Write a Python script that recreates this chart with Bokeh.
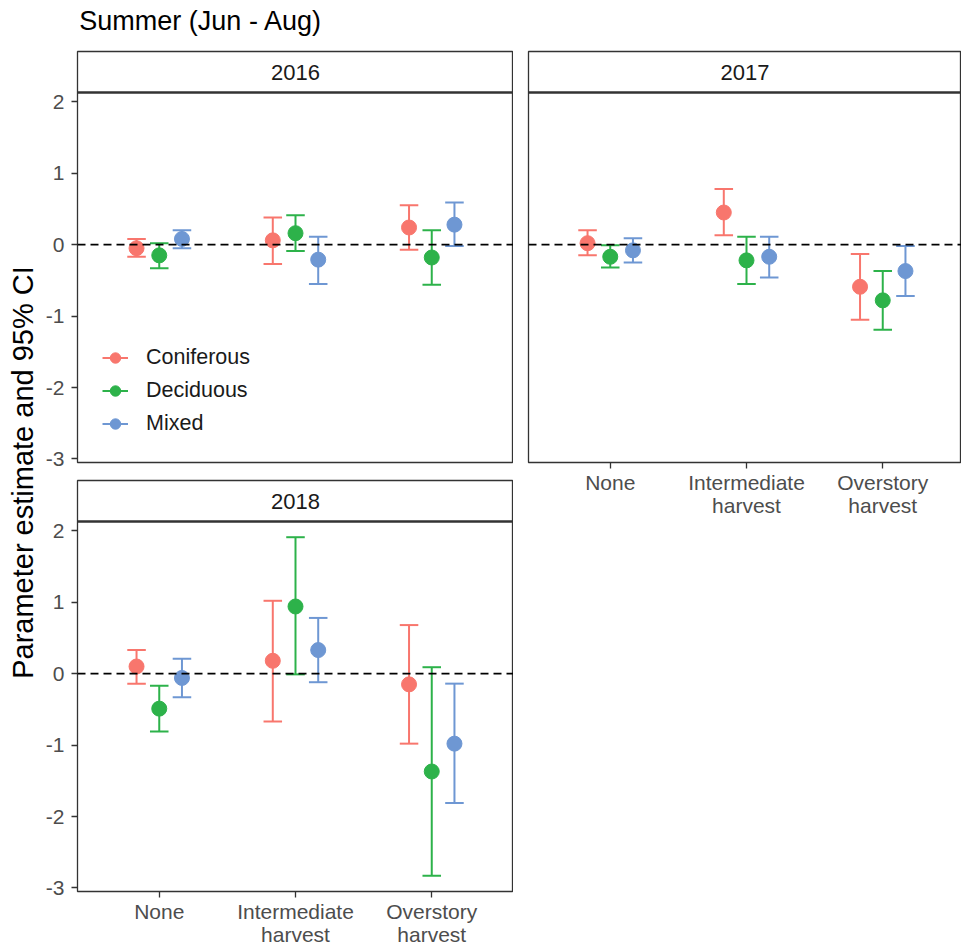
import math
from bokeh.plotting import figure
from bokeh.models import (Range1d, Label, Span, Legend, LegendItem,
                          ColumnDataSource, FixedTicker, Spacer)
from bokeh.layouts import row, column
from bokeh.transform import dodge
from bokeh.embed import file_html
from bokeh.resources import INLINE

FONT = "Liberation Sans"

# ---------------- data ----------------
treatments = ["None", "Intermediate\nharvest", "Overstory\nharvest"]
treat_pos = [1, 2, 3]
forest_types = ["Coniferous", "Deciduous", "Mixed"]
colors = ["#F8766D", "#2DB24A", "#6E97D3"]
years = ["2016", "2017", "2018"]

# 2016
est_2016_con = [-0.05, 0.06, 0.24]
lo_2016_con = [-0.17, -0.27, -0.07]
hi_2016_con = [0.08, 0.38, 0.55]
est_2016_dec = [-0.15, 0.16, -0.18]
lo_2016_dec = [-0.33, -0.09, -0.56]
hi_2016_dec = [0.02, 0.41, 0.20]
est_2016_mix = [0.08, -0.21, 0.28]
lo_2016_mix = [-0.05, -0.55, -0.02]
hi_2016_mix = [0.20, 0.11, 0.59]

# 2017
est_2017_con = [0.02, 0.45, -0.59]
lo_2017_con = [-0.15, 0.13, -1.05]
hi_2017_con = [0.20, 0.78, -0.13]
est_2017_dec = [-0.17, -0.22, -0.78]
lo_2017_dec = [-0.32, -0.55, -1.19]
hi_2017_dec = [-0.01, 0.11, -0.37]
est_2017_mix = [-0.08, -0.17, -0.37]
lo_2017_mix = [-0.25, -0.46, -0.72]
hi_2017_mix = [0.09, 0.11, -0.02]

# 2018
est_2018_con = [0.10, 0.18, -0.15]
lo_2018_con = [-0.14, -0.67, -0.98]
hi_2018_con = [0.33, 1.02, 0.68]
est_2018_dec = [-0.49, 0.94, -1.37]
lo_2018_dec = [-0.81, -0.01, -2.83]
hi_2018_dec = [-0.17, 1.91, 0.09]
est_2018_mix = [-0.06, 0.33, -0.98]
lo_2018_mix = [-0.33, -0.12, -1.81]
hi_2018_mix = [0.21, 0.78, -0.14]

panel_data = {
    "2016": [(est_2016_con, lo_2016_con, hi_2016_con),
             (est_2016_dec, lo_2016_dec, hi_2016_dec),
             (est_2016_mix, lo_2016_mix, hi_2016_mix)],
    "2017": [(est_2017_con, lo_2017_con, hi_2017_con),
             (est_2017_dec, lo_2017_dec, hi_2017_dec),
             (est_2017_mix, lo_2017_mix, hi_2017_mix)],
    "2018": [(est_2018_con, lo_2018_con, hi_2018_con),
             (est_2018_dec, lo_2018_dec, hi_2018_dec),
             (est_2018_mix, lo_2018_mix, hi_2018_mix)],
}

dodge_offsets = [-1 / 6, 0.0, 1 / 6]
cap_half = 0.068
y_ticks = [-3, -2, -1, 0, 1, 2]
y_tick_labels = ["-3", "-2", "-1", "0", "1", "2"]
Y_MIN, Y_MAX = -3.05, 2.13

# ---------------- layout constants ----------------
DATA_H = 370          # px of the data region
STRIP_H = 41          # px of the facet strip (inside the same frame)
FRAME_W = 436
PX_PER_UNIT = DATA_H / (Y_MAX - Y_MIN)
STRIP_UNITS = STRIP_H / PX_PER_UNIT
BORDER = "#333333"
TICK_COLOR = "#333333"
LABEL_COLOR = "#4D4D4D"
TICK_FS = "21px"


def style_axes(p, show_x, show_y):
    for ax in p.axis:
        ax.axis_line_color = None
        ax.major_tick_out = 6
        ax.major_tick_in = 0
        ax.minor_tick_out = 0
        ax.minor_tick_in = 0
        ax.major_tick_line_color = TICK_COLOR
        ax.major_tick_line_width = 1.3
        ax.major_label_text_font = FONT
        ax.major_label_text_font_size = TICK_FS
        ax.major_label_text_color = LABEL_COLOR
        ax.major_label_text_line_height = 1.0
    p.xaxis.major_label_standoff = 2
    p.yaxis.major_label_standoff = 7
    p.xaxis.ticker = FixedTicker(ticks=treat_pos)
    p.xaxis.major_label_overrides = {k: v for k, v in zip(treat_pos, treatments)}
    p.yaxis.ticker = FixedTicker(ticks=y_ticks)
    p.yaxis.major_label_overrides = {k: v for k, v in zip(y_ticks, y_tick_labels)}
    p.xaxis.visible = show_x
    p.yaxis.visible = show_y


def make_panel(year, frame_w, min_left, min_bottom, show_x, show_y, legend=False):
    x_end = 0.4 + 3.2 * frame_w / FRAME_W
    p = figure(frame_width=frame_w, frame_height=DATA_H + STRIP_H,
               x_range=Range1d(0.4, x_end),
               y_range=Range1d(Y_MIN, Y_MAX + STRIP_UNITS),
               output_backend="svg", toolbar_location=None,
               min_border_left=min_left, min_border_right=0,
               min_border_top=1, min_border_bottom=min_bottom,
               background_fill_color="white", border_fill_color="white")
    p.grid.visible = False
    p.outline_line_color = BORDER
    p.outline_line_width = 1.3
    style_axes(p, show_x, show_y)

    # facet strip: bottom line of the strip + strip label
    p.add_layout(Span(location=Y_MAX, dimension="width", line_color=BORDER,
                      line_width=2.6))
    p.add_layout(Label(x=(0.4 + x_end) / 2, y=Y_MAX + STRIP_UNITS / 2, text=year,
                       text_align="center", text_baseline="middle",
                       text_font=FONT, text_font_size="22px",
                       text_color="#1A1A1A"))

    p.add_layout(Span(location=0, dimension="width", line_color="black",
                      line_width=1.8, line_dash="8 5"))

    items = []
    for (est, lo, hi), off, col, name in zip(panel_data[year], dodge_offsets,
                                             colors, forest_types):
        src = ColumnDataSource(dict(x=treat_pos, est=est, lo=lo, hi=hi))
        r_v = p.segment(x0=dodge("x", off), y0="lo", x1=dodge("x", off), y1="hi",
                        source=src, line_color=col, line_width=2)
        p.segment(x0=dodge("x", off - cap_half), y0="lo",
                  x1=dodge("x", off + cap_half), y1="lo",
                  source=src, line_color=col, line_width=2)
        p.segment(x0=dodge("x", off - cap_half), y0="hi",
                  x1=dodge("x", off + cap_half), y1="hi",
                  source=src, line_color=col, line_width=2)
        r_p = p.scatter(x=dodge("x", off), y="est", source=src, size=15,
                        fill_color=col, line_color=col)
        items.append(LegendItem(label=name, renderers=[r_v, r_p]))

    if legend:
        lg = Legend(items=items, location=(25, 22), padding=0, margin=0,
                    spacing=0, glyph_width=26, glyph_height=33,
                    label_height=33, label_standoff=18,
                    label_text_font=FONT, label_text_font_size="21.5px",
                    label_text_color="#1A1A1A",
                    border_line_alpha=0, background_fill_alpha=0)
        p.add_layout(lg)
    return p


# ---------------- left column ----------------
LEFT_W = 473   # page x 40 .. 513
MIN_LEFT = 37  # frame starts at page x 77
TITLE_H = 50

title_fig = figure(width=LEFT_W, height=TITLE_H, x_range=Range1d(0, LEFT_W),
                   y_range=Range1d(0, TITLE_H), output_backend="svg",
                   toolbar_location=None, min_border=0)
title_fig.axis.visible = False
title_fig.grid.visible = False
title_fig.outline_line_color = None
title_fig.add_layout(Label(x=2, y=TITLE_H - 20, text="Summer (Jun - Aug)",
                           text_align="left", text_baseline="middle",
                           text_font=FONT, text_font_size="27px",
                           text_color="black"))

p16 = make_panel("2016", FRAME_W, MIN_LEFT, 17, False, True, legend=True)
p18 = make_panel("2018", FRAME_W, MIN_LEFT, 0, True, True)

left_col = column(title_fig, p16, p18, spacing=0)

# ---------------- right column ----------------
RIGHT_FRAME_W = 433
GAP = 15
spacer = Spacer(width=GAP + RIGHT_FRAME_W, height=TITLE_H)
p17 = make_panel("2017", RIGHT_FRAME_W, GAP, 0, True, False)
right_col = column(spacer, p17, spacing=0)

# ---------------- y-axis title ----------------
YL_W = 40
YL_H = TITLE_H + (1 + STRIP_H + DATA_H + 17) + (1 + STRIP_H + DATA_H)
ylab = figure(width=YL_W, height=YL_H, x_range=Range1d(0, YL_W),
              y_range=Range1d(0, YL_H), output_backend="svg",
              toolbar_location=None, min_border=0)
ylab.axis.visible = False
ylab.grid.visible = False
ylab.outline_line_color = None
ylab.add_layout(Label(x=22, y=YL_H - 472, text="Parameter estimate and 95% CI",
                      angle=math.pi / 2, text_align="center",
                      text_baseline="middle", text_font=FONT,
                      text_font_size="29px", text_color="black"))

layout = row(ylab, left_col, right_col, spacing=0)

open("out.html", "w").write(file_html(layout, INLINE))
